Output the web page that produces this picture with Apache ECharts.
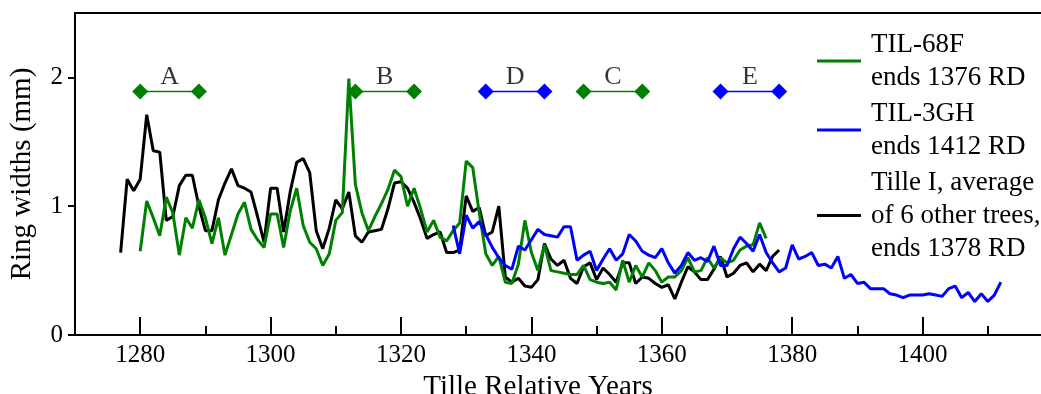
<!DOCTYPE html>
<html>
<head>
<meta charset="utf-8">
<script src="https://cdn.jsdelivr.net/npm/echarts@6/dist/echarts.min.js"></script>
<style>
  html, body { margin: 0; padding: 0; background: #fff; }
  #chart { width: 1041px; height: 394px; }
</style>
</head>
<body>
<div id="chart"></div>
<script>
// ring widths (mm), one value per year
const tilleStart = 1277
const tilleI = [
  0.64, 1.21, 1.12, 1.21, 1.71, 1.43, 1.42, 0.89, 0.92, 1.16,
  1.24, 1.24, 1.00, 0.81, 0.81, 1.05, 1.18, 1.29, 1.16, 1.14,
  1.11, 0.92, 0.72, 1.14, 1.14, 0.80, 1.11, 1.34, 1.37, 1.26,
  0.81, 0.67, 0.83, 1.05, 0.98, 1.11, 0.77, 0.72, 0.80, 0.81,
  0.82, 0.98, 1.18, 1.19, 1.14, 1.03, 0.90, 0.75, 0.78, 0.80,
  0.64, 0.64, 0.66, 1.08, 0.96, 0.99, 0.77, 0.80, 1.00, 0.45,
  0.41, 0.44, 0.38, 0.37, 0.43, 0.71, 0.59, 0.54, 0.58, 0.44,
  0.40, 0.53, 0.56, 0.43, 0.52, 0.47, 0.41, 0.56, 0.56, 0.40,
  0.45, 0.44, 0.40, 0.37, 0.39, 0.28, 0.41, 0.53, 0.49, 0.43,
  0.43, 0.51, 0.61, 0.45, 0.48, 0.54, 0.56, 0.49, 0.55, 0.50,
  0.61, 0.66
]

const til68fStart = 1280
const til68f = [
  0.65, 1.04, 0.91, 0.77, 1.07, 0.95, 0.62, 0.91, 0.83, 1.05,
  0.91, 0.71, 0.91, 0.62, 0.78, 0.94, 1.03, 0.82, 0.74, 0.68,
  0.94, 0.94, 0.68, 0.96, 1.14, 0.85, 0.72, 0.67, 0.54, 0.63,
  0.89, 0.95, 1.99, 1.17, 0.95, 0.81, 0.92, 1.02, 1.13, 1.28,
  1.23, 1.00, 1.14, 0.98, 0.80, 0.89, 0.76, 0.73, 0.81, 0.87,
  1.35, 1.30, 0.95, 0.63, 0.54, 0.61, 0.41, 0.40, 0.55, 0.89,
  0.64, 0.50, 0.70, 0.50, 0.49, 0.48, 0.47, 0.47, 0.54, 0.43,
  0.41, 0.40, 0.41, 0.35, 0.58, 0.41, 0.54, 0.45, 0.56, 0.50,
  0.41, 0.45, 0.45, 0.50, 0.60, 0.49, 0.50, 0.60, 0.52, 0.60,
  0.56, 0.58, 0.66, 0.69, 0.70, 0.87, 0.75
]

const til3ghStart = 1328
const til3gh = [
  0.85, 0.63, 0.93, 0.83, 0.88, 0.78, 0.68, 0.60, 0.54, 0.51,
  0.69, 0.66, 0.74, 0.82, 0.78, 0.77, 0.76, 0.84, 0.84, 0.58,
  0.62, 0.65, 0.50, 0.59, 0.67, 0.58, 0.63, 0.78, 0.73, 0.65,
  0.62, 0.60, 0.67, 0.56, 0.48, 0.54, 0.64, 0.58, 0.60, 0.57,
  0.69, 0.54, 0.54, 0.67, 0.76, 0.71, 0.65, 0.78, 0.64, 0.56,
  0.49, 0.52, 0.70, 0.59, 0.61, 0.64, 0.54, 0.55, 0.52, 0.61,
  0.44, 0.47, 0.40, 0.41, 0.36, 0.36, 0.36, 0.32, 0.31, 0.29,
  0.31, 0.31, 0.31, 0.32, 0.31, 0.30, 0.36, 0.38, 0.29, 0.33,
  0.26, 0.32, 0.26, 0.31, 0.41
]

// dated intervals drawn above the curves
const markerLabels = ['A', 'B', 'D', 'C', 'E']
const markerStart = [1280, 1313, 1333, 1348, 1369]
const markerEnd = [1289, 1322, 1342, 1357, 1378]
const markerTree = ['68F', '68F', '3GH', '68F', '3GH']
const markerLevel = 1.89

const xLabelTicks = [1280, 1300, 1320, 1340, 1360, 1380, 1400]
const xMinorTicks = [1290, 1310, 1330, 1350, 1370, 1390, 1410]
const yTicks = [0, 1, 2]

const nameGreen = 'TIL-68F\nends 1376 RD'
const nameBlue = 'TIL-3GH\nends 1412 RD'
const nameBlack = 'Tille I, average\nof 6 other trees,\nends 1378 RD'

const GREEN = '#008000'
const BLUE = '#0000ff'
const FONT = '"Liberation Serif", "Times New Roman", serif'

const toPairs = (start, vals) => vals.map((v, i) => [start + i, v])

const chart = echarts.init(document.getElementById('chart'))

const markerSeries = []
markerLabels.forEach((lab, i) => {
  const color = markerTree[i] === '68F' ? GREEN : BLUE
  markerSeries.push({
    type: 'line',
    name: 'marker-' + lab,
    data: [[markerStart[i], markerLevel], [markerEnd[i], markerLevel]],
    symbol: 'diamond',
    symbolSize: 16,
    showAllSymbol: true,
    itemStyle: { color },
    lineStyle: { color, width: 1.5 },
    z: 5,
  })
  markerSeries.push({
    type: 'scatter',
    name: 'label-' + lab,
    data: [[(markerStart[i] + markerEnd[i]) / 2, markerLevel]],
    symbolSize: 0,
    label: {
      show: true,
      formatter: lab,
      position: 'top',
      distance: 1,
      color: '#000',
      fontFamily: FONT,
      fontSize: 26,
    },
    z: 6,
  })
})

chart.setOption({
  animation: false,
  grid: { left: 75, right: -12, top: 13, bottom: 59, containLabel: false, outerBoundsMode: 'none' },
  legend: {
    data: [nameGreen, nameBlue, nameBlack],
    orient: 'vertical',
    left: 812,
    top: 23,
    itemGap: 3,
    icon: 'rect',
    itemWidth: 44,
    itemHeight: 3,
    textStyle: {
      fontFamily: FONT,
      fontSize: 27,
      lineHeight: 33,
      color: '#000',
      padding: [0, 0, 0, 5],
    },
  },
  xAxis: [
    {
      type: 'value',
      min: 1270,
      max: 1420,
      position: 'bottom',
      splitLine: { show: false },
      axisLine: { show: true, lineStyle: { color: '#000', width: 2 } },
      axisTick: { show: true, inside: true, length: 18, customValues: xLabelTicks, lineStyle: { color: '#000', width: 2 } },
      axisLabel: {
        customValues: xLabelTicks,
        formatter: (v) => String(v),
        color: '#000',
        fontFamily: FONT,
        fontSize: 25,
        margin: 8,
      },
      name: 'Tille Relative Years',
      nameLocation: 'middle',
      nameGap: 31,
      nameTextStyle: { color: '#000', fontFamily: FONT, fontSize: 29, padding: [0, 52, 0, 0] },
    },
    {
      type: 'value',
      min: 1270,
      max: 1420,
      position: 'bottom',
      splitLine: { show: false },
      axisLine: { show: true, lineStyle: { color: '#000', width: 2, opacity: 0 } },
      axisTick: { show: true, inside: true, length: 9, customValues: xMinorTicks, lineStyle: { color: '#000', width: 2 } },
      axisLabel: { show: false },
    },
    {
      type: 'value',
      min: 1270,
      max: 1420,
      position: 'top',
      splitLine: { show: false },
      axisLine: { show: true, lineStyle: { color: '#000', width: 2 } },
      axisTick: { show: false },
      axisLabel: { show: false },
    },
  ],
  yAxis: {
    type: 'value',
    min: 0,
    max: 2.5,
    splitLine: { show: false },
    axisLine: { show: true, lineStyle: { color: '#000', width: 2 } },
    axisTick: { show: true, length: 7, customValues: yTicks, lineStyle: { color: '#000', width: 2 } },
    axisLabel: { customValues: yTicks, color: '#000', fontFamily: FONT, fontSize: 25, margin: 12 },
    name: 'Ring widths (mm)',
    nameLocation: 'middle',
    nameGap: 38,
    nameTextStyle: { color: '#000', fontFamily: FONT, fontSize: 29 },
  },
  series: [
    {
      type: 'line',
      name: nameBlack,
      data: toPairs(tilleStart, tilleI),
      symbol: 'none',
      itemStyle: { color: '#000' },
      lineStyle: { color: '#000', width: 3 },
      z: 2,
    },
    {
      type: 'line',
      name: nameGreen,
      data: toPairs(til68fStart, til68f),
      symbol: 'none',
      itemStyle: { color: GREEN },
      lineStyle: { color: GREEN, width: 3 },
      z: 3,
    },
    {
      type: 'line',
      name: nameBlue,
      data: toPairs(til3ghStart, til3gh),
      symbol: 'none',
      itemStyle: { color: BLUE },
      lineStyle: { color: BLUE, width: 3 },
      z: 4,
    },
    ...markerSeries,
  ],
})
</script>
</body>
</html>
